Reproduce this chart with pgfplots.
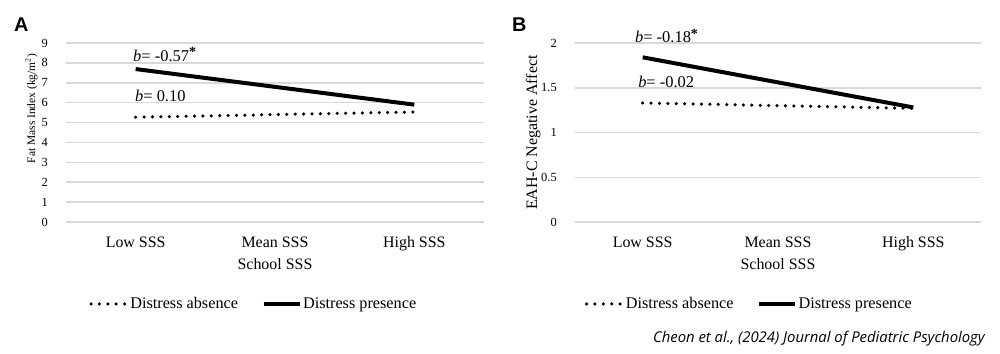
\documentclass[border=0pt]{standalone}
\usepackage{fontspec}
\setmainfont{Liberation Serif}
\newfontfamily\headfont{Liberation Sans}
\newfontfamily\citefont{Open Sans}
\usepackage{pgfplots}
\pgfplotsset{compat=1.18}
\definecolor{gridgray}{HTML}{D9D9D9}
\newcommand{\sig}{\raisebox{4.5bp}{\fontsize{14}{14}\selectfont\textbf{*}}}

\pgfplotsset{
  panel/.style={
    scale only axis,
    height=179bp,
    axis line style={draw=none},
    tick style={draw=none},
    ymajorgrids,
    grid style={line width=1.5bp, color=gridgray},
    xmin=-0.5, xmax=2.5,
    xtick={0,1,2},
    xticklabels={Low SSS, Mean SSS, High SSS},
    /pgf/number format/assume math mode=true,
    xticklabel style={font=\fontsize{16}{19}\selectfont, anchor=base, inner sep=0pt, yshift=-25bp},
    yticklabel style={font=\fontsize{12.5}{15}\selectfont, anchor=east, inner sep=0pt, xshift=-18bp},
    xlabel={School SSS},
    xlabel style={font=\fontsize{16}{19}\selectfont, at={(axis description cs:0.5,0)}, anchor=base, inner sep=0pt, yshift=-47bp},
    clip=false,
    legend columns=2,
    legend style={draw=none, fill=none, font=\fontsize{16.3}{19}\selectfont, inner sep=0pt,
      /tikz/every even column/.append style={column sep=22bp},
      nodes={inner sep=1.5bp}},
    legend image code/.code={\draw[##1] (0bp,0bp) -- (36bp,0bp);},
  },
  absence/.style={black, line width=3.5bp, line cap=round, dash pattern=on 0bp off 8.4bp},
  presence/.style={black, line width=4bp},
}

\begin{document}
\begin{tikzpicture}
\path[use as bounding box] (0,0) rectangle (1000bp,-354bp);

% Panel A
\begin{axis}[panel,
  at={(66bp,-222bp)}, anchor=south west,
  width=418bp,
  ymin=0, ymax=9, ytick={0,1,...,9},
  ylabel={Fat Mass Index (kg/m\textsuperscript{2})},
  ylabel style={font=\fontsize{11.5}{14}\selectfont, at={(axis description cs:-0.074,0.634)}, anchor=base, inner sep=0pt},
  legend style={at={(axis description cs:0.4486,-0.458)}, anchor=center},
]
\addplot[absence] coordinates {(0,5.27) (2,5.53)};
\addlegendentry{Distress absence}
\addplot[presence] coordinates {(0,7.69) (2,5.90)};
\addlegendentry{Distress presence}
\node[anchor=base west, inner sep=0pt, font=\fontsize{16.5}{19}\selectfont] at (axis cs:-0.019,8.09) {\textit{b}= -0.57\sig};
\node[anchor=base west, inner sep=0pt, font=\fontsize{16.5}{19}\selectfont] at (axis cs:-0.005,6.08) {\textit{b}= 0.10};
\end{axis}

% Panel B
\begin{axis}[panel,
  at={(575bp,-222bp)}, anchor=south west,
  width=406bp,
  ymin=0, ymax=2, ytick={0,0.5,...,2},
  ylabel={EAH-C Negative Affect},
  ylabel style={font=\fontsize{16}{19}\selectfont, at={(axis description cs:-0.0936,0.5)}, anchor=base, inner sep=0pt},
  legend style={at={(axis description cs:0.4286,-0.458)}, anchor=center},
]
\addplot[absence] coordinates {(0,1.33) (2,1.27)};
\addlegendentry{Distress absence}
\addplot[presence] coordinates {(0,1.84) (2,1.28)};
\addlegendentry{Distress presence}
\node[anchor=base west, inner sep=0pt, font=\fontsize{16.5}{19}\selectfont] at (axis cs:-0.057,2.003) {\textit{b}= -0.18\sig};
\node[anchor=base west, inner sep=0pt, font=\fontsize{16.5}{19}\selectfont] at (axis cs:-0.034,1.50) {\textit{b}= -0.02};
\end{axis}

\node[anchor=base west, inner sep=0pt, font=\headfont\bfseries\fontsize{20}{24}\selectfont] at (14bp,-31bp) {A};
\node[anchor=base west, inner sep=0pt, font=\headfont\bfseries\fontsize{20}{24}\selectfont] at (512bp,-31bp) {B};
\node[anchor=base east, inner sep=0pt, font=\citefont\itshape\fontsize{14.9}{18}\selectfont] at (985bp,-342bp) {Cheon et al., (2024) Journal of Pediatric Psychology};
\end{tikzpicture}
\end{document}
